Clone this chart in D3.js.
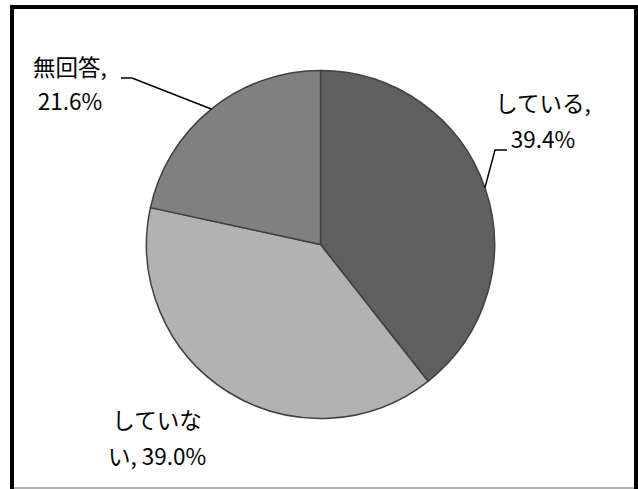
<!DOCTYPE html>
<html>
<head>
<meta charset="utf-8">
<script src="https://d3js.org/d3.v7.min.js"></script>
<style>
  body { margin: 0; background: #fff; }
  svg { display: block; }
</style>
</head>
<body>
<div id="chart"></div>
<script>
// data
var categories = ["している", "していない", "無回答"];
var values = [39.4, 39.0, 21.6];
var sliceColors = ["#5f5f5f", "#b2b2b2", "#808080"];

var svgwidth = 638;
var svgheight = 489;
var cx = 320.5, cy = 244.5, radius = 174;

var svg = d3
  .select("#chart")
  .append("svg")
  .attr("width", svgwidth)
  .attr("height", svgheight);

// frame
svg.append("rect")
  .attr("x", 12).attr("y", 7)
  .attr("width", 624).attr("height", 492)
  .attr("fill", "#fff")
  .attr("stroke", "#000")
  .attr("stroke-width", 4);
svg.append("line")
  .attr("x1", 14).attr("x2", 634)
  .attr("y1", 488).attr("y2", 488)
  .attr("stroke", "#999").attr("stroke-width", 1.5);

var data = categories.map(function (c, i) {
  return { name: c, value: values[i], color: sliceColors[i] };
});

var pie = d3.pie().sort(null).value(function (d) { return d.value; });
var arc = d3.arc().innerRadius(0).outerRadius(radius);

var g = svg.append("g").attr("transform", "translate(" + cx + "," + cy + ")");

var arcs = pie(data);

g.selectAll("path")
  .data(arcs)
  .join("path")
  .attr("d", arc)
  .attr("fill", function (d) { return d.data.color; })
  .attr("stroke", "#404040")
  .attr("stroke-width", 1.5)
  .attr("stroke-linejoin", "round");

// label positions (centre x, baselines) and leader elbows
var labelPos = [
  { x: 543, y1: 112, y2: 148, lines: ["している,", "39.4%"], elbow: [[495, 150], [507, 150]] },
  { x: 157, y1: 429, y2: 465, lines: ["していな", "い, 39.0%"], elbow: null },
  { x: 70, y1: 76, y2: 110, lines: ["無回答,", "21.6%"], elbow: [[132, 78], [121, 78]] }
];

var edgeArc = d3.arc().innerRadius(radius).outerRadius(radius);

arcs.forEach(function (d, i) {
  var p = labelPos[i];
  if (p.elbow) {
    var c = edgeArc.centroid(d);
    var pts = [[c[0] + cx, c[1] + cy]].concat(p.elbow);
    svg.append("path")
      .attr("d", d3.line()(pts))
      .attr("fill", "none")
      .attr("stroke", "#000")
      .attr("stroke-width", 1.5);
  }
  var t = svg.append("text")
    .attr("text-anchor", "middle")
    .style("font-family", "'Noto Sans CJK JP', 'Noto Sans', sans-serif")
    .style("font-size", "22.5px")
    .style("fill", "#000");
  t.append("tspan").attr("x", p.x).attr("y", p.y1).text(p.lines[0]);
  t.append("tspan").attr("x", p.x).attr("y", p.y2).text(p.lines[1]);
});
</script>
</body>
</html>
